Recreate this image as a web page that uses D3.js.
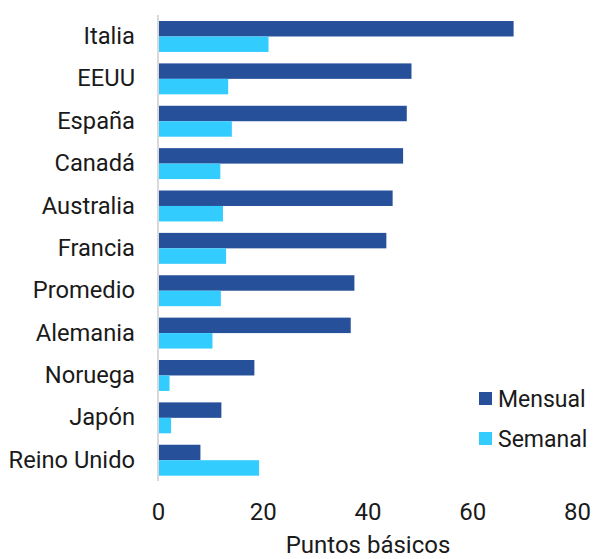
<!DOCTYPE html>
<html>
<head>
<meta charset="utf-8">
<script src="https://cdn.jsdelivr.net/npm/d3@7"></script>
<style>
  body { margin: 0; background: #fff; }
  svg text { font-family: Roboto, "Noto Sans", sans-serif; fill: #1a1a1a; }
</style>
</head>
<body>
<svg id="chart" width="594" height="559"></svg>
<script>
// Values
var paises = ["Italia", "EEUU", "España", "Canadá", "Australia", "Francia",
  "Promedio", "Alemania", "Noruega", "Japón", "Reino Unido"];
var mensual = [67.9, 48.4, 47.5, 46.8, 44.8, 43.6, 37.5, 36.8, 18.4, 12.1, 8.1];
var semanal = [21.1, 13.4, 14.1, 11.9, 12.4, 13.0, 12.0, 10.4, 2.2, 2.5, 19.3];
var series = ["Mensual", "Semanal"];
var xTicks = [0, 20, 40, 60, 80];

var colores = { "Mensual": "#27509b", "Semanal": "#33ccff" };
var fs = 23.7;

var svg = d3.select("#chart");

var x = d3.scaleLinear().domain([0, 80]).range([158, 577]);
var y = d3.scaleBand().domain(paises).range([15.3, 481.4])
  .paddingInner(0.27).paddingOuter(0.135);
var ySub = d3.scaleBand().domain(series).range([0, y.bandwidth()]);

// Build rows from the arrays
var filas = paises.map(function(p, i) {
  return { pais: p, valores: [
    { serie: "Mensual", valor: mensual[i] },
    { serie: "Semanal", valor: semanal[i] }
  ] };
});

// Bars
var grupo = svg.append("g").selectAll("g")
  .data(filas)
  .enter().append("g")
  .attr("transform", function(d) { return "translate(0," + y(d.pais) + ")"; });

grupo.selectAll("rect")
  .data(function(d) { return d.valores; })
  .enter().append("rect")
  .attr("x", x(0) + 1)
  .attr("y", function(d) { return ySub(d.serie); })
  .attr("width", function(d) { return x(d.valor) - x(0) - 1; })
  .attr("height", ySub.bandwidth())
  .attr("fill", function(d) { return colores[d.serie]; });

// Vertical axis line
svg.append("line")
  .attr("x1", x(0)).attr("x2", x(0))
  .attr("y1", 15).attr("y2", 481)
  .attr("stroke", "#d9d9d9")
  .attr("stroke-width", 2);

// Category labels
var yAxis = svg.append("g")
  .attr("transform", "translate(" + (x(0) - 23) + ",0)")
  .call(d3.axisLeft(y).tickSize(0).tickPadding(0));
yAxis.select(".domain").remove();
yAxis.attr("font-size", null).attr("font-family", null);
yAxis.selectAll("text")
  .style("font-size", fs + "px")
  .attr("fill", "#1a1a1a");

// X axis tick labels
var xAxis = svg.append("g")
  .attr("transform", "translate(0,503)")
  .call(d3.axisBottom(x).tickValues(xTicks).tickSize(0).tickPadding(0));
xAxis.select(".domain").remove();
xAxis.attr("font-size", null).attr("font-family", null);
xAxis.selectAll("text")
  .attr("dy", "0.71em")
  .style("font-size", "24px")
  .attr("fill", "#1a1a1a");

// Axis title
svg.append("text")
  .attr("x", 368)
  .attr("y", 553)
  .attr("text-anchor", "middle")
  .style("font-size", "24px")
  .text("Puntos básicos");

// Legend
var leyenda = svg.append("g").selectAll("g")
  .data(series)
  .enter().append("g")
  .attr("transform", function(d, i) { return "translate(479," + (392 + i * 40) + ")"; });

leyenda.append("rect")
  .attr("width", 13)
  .attr("height", 13)
  .attr("fill", function(d) { return colores[d]; });

leyenda.append("text")
  .attr("x", 19)
  .attr("y", 6.5)
  .attr("dy", "0.35em")
  .style("font-size", "23px")
  .text(function(d) { return d; });
</script>
</body>
</html>
